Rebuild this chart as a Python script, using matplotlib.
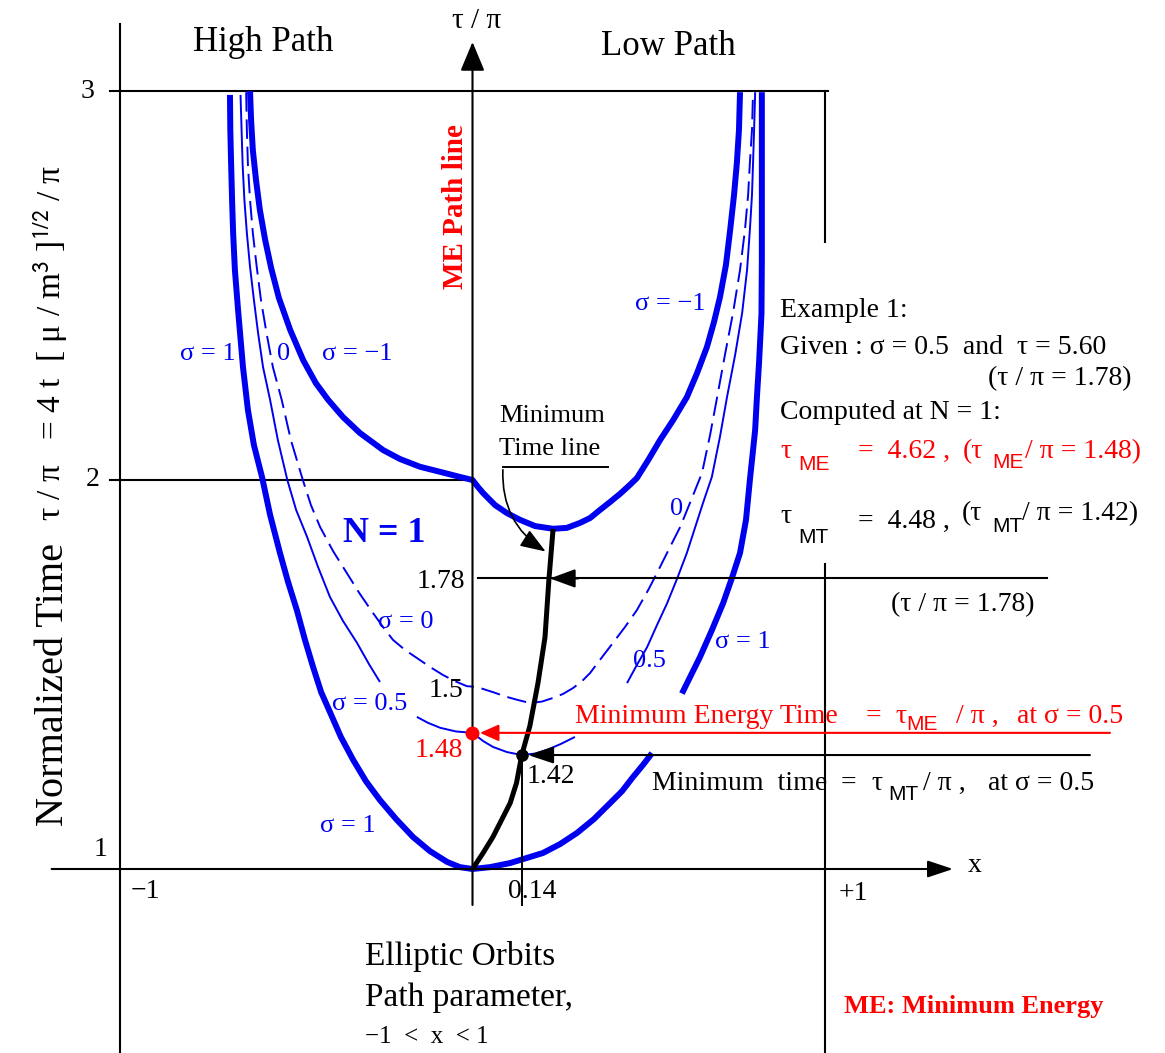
import numpy as np
import matplotlib
matplotlib.use("Agg")
import matplotlib.pyplot as plt
from matplotlib.patches import FancyArrowPatch

plt.rcParams['font.family'] = ['Liberation Serif', 'DejaVu Serif']
plt.rcParams['mathtext.fontset'] = 'stix'
plt.rcParams['mathtext.default'] = 'regular'

W, H = 1165, 1053
BLUE = '#0000f0'
RED = '#ff0000'

# the tau/pi axis is not drawn to scale: labelled levels and the height
# each one sits at (in units of the 1 -> 2 spacing)
y_levels = [0.4, 1.0, 1.42, 1.48, 1.5, 1.78, 2.0, 3.0, 3.3]
y_height = [-0.6, 0.0, 0.293, 0.350, 0.469, 0.747, 1.0, 2.0, 2.3]

# N = 1 curves, x = path parameter, y = tau/pi ; None = break in the line
sig_p1_x = [-0.689, -0.688, -0.686, -0.683, -0.680, -0.675, -0.666, -0.652, -0.638,
            -0.621, -0.598, -0.575, -0.547, -0.524, -0.499, -0.476, -0.453, -0.430,
            -0.405, -0.374, -0.339, -0.303, -0.263, -0.217, -0.169, -0.121, -0.072,
            -0.036, 0.0, 0.050, 0.107, 0.155, 0.200, 0.249, 0.297, 0.345, 0.391,
            0.425, 0.456, 0.484, 0.510, None,
            0.595, 0.621, 0.646, 0.680, 0.712, 0.737, 0.760, 0.777, 0.788, 0.797,
            0.803, 0.808, 0.814, 0.818, 0.821, 0.822, 0.822, 0.822]
sig_p1_y = [2.990, 2.900, 2.823, 2.720, 2.635, 2.540, 2.437, 2.290, 2.180,
            2.090, 2.008, 1.922, 1.837, 1.771, 1.698, 1.621, 1.551, 1.4976,
            1.489, 1.469, 1.402, 1.324, 1.254, 1.184, 1.118, 1.066, 1.026,
            1.007, 1.0, 1.007, 1.022, 1.041, 1.059, 1.092, 1.133, 1.184, 1.243,
            1.287, 1.339, 1.383, 1.425, None,
            1.497, 1.530, 1.576, 1.646, 1.716, 1.781, 1.837, 1.911, 2.0, 2.077,
            2.129, 2.213, 2.301, 2.373, 2.429, 2.566, 2.720, 2.997]

sig_m1_x = [-0.632, -0.629, -0.624, -0.615, -0.604, -0.589, -0.572, -0.550, -0.518,
            -0.481, -0.445, -0.410, -0.368, -0.320, -0.254, -0.206, -0.149, -0.092,
            -0.036, 0.0, 0.016, 0.030, 0.064, 0.098, 0.135, 0.178, 0.229, 0.268,
            0.305, 0.334, 0.362, 0.391, 0.419, 0.447, 0.467, 0.499, 0.533, 0.570,
            0.609, 0.638, 0.666, 0.686, 0.703, 0.720, 0.732, 0.743, 0.751, 0.757, 0.760]
sig_m1_y = [3.0, 2.925, 2.848, 2.771, 2.694, 2.617, 2.545, 2.468, 2.386,
            2.308, 2.249, 2.206, 2.162, 2.121, 2.077, 2.054, 2.034, 2.021,
            2.008, 2.0, 1.984, 1.971, 1.944, 1.926, 1.911, 1.897, 1.891, 1.893,
            1.904, 1.915, 1.933, 1.951, 1.969, 1.989, 2.005, 2.051, 2.103, 2.154,
            2.213, 2.275, 2.342, 2.406, 2.470, 2.553, 2.643, 2.733, 2.815, 2.900, 2.997]

sig_0_x = [-0.643, -0.641, -0.638, -0.632, -0.624, -0.613, -0.601, -0.585, -0.567,
           -0.542, -0.516, -0.482, -0.459, -0.433, -0.396, -0.357, -0.320, -0.283,
           -0.254, -0.226, -0.192, -0.158, -0.121, -0.084, -0.050, -0.016, 0.0,
           0.021, 0.058, 0.098, 0.129, 0.163, 0.197, 0.229, 0.257, 0.286, 0.311,
           0.334, 0.362, 0.399, 0.433, 0.467, 0.501, 0.533, 0.561, 0.590, 0.621,
           0.652, 0.675, 0.695, 0.717, 0.740, 0.760, 0.774, 0.783, 0.788, 0.794, 0.797]
sig_0_y = [2.997, 2.900, 2.810, 2.720, 2.635, 2.548, 2.463, 2.377, 2.290,
           2.206, 2.103, 2.0, 1.944, 1.895, 1.841, 1.792, 1.740, 1.691,
           1.654, 1.621, 1.595, 1.574, 1.551, 1.530, 1.514, 1.501, 1.5,
           1.4994, 1.4976, 1.4955, 1.4942, 1.4929, 1.4935, 1.4951, 1.4968, 1.4994, 1.514,
           1.535, 1.569, 1.613, 1.654, 1.698, 1.753, 1.806, 1.850, 1.895, 1.955,
           2.018, 2.116, 2.213, 2.321, 2.429, 2.540, 2.643, 2.733, 2.815, 2.900, 2.997]

sig_05_x = [-0.659, -0.656, -0.653, -0.648, -0.641, -0.632, -0.621, -0.609, -0.595,
            -0.575, -0.553, -0.526, -0.501, -0.470, -0.439, -0.405, -0.368, -0.328,
            -0.294, -0.263, None,
            -0.158, -0.126, -0.092, -0.047, 0.0, 0.030, 0.058, 0.098, 0.14, 0.178,
            0.212, 0.251, 0.291, None,
            0.439, 0.467, 0.496, 0.524, 0.553, 0.582, 0.609, 0.632, 0.655, 0.680,
            0.703, 0.723, 0.746, 0.766, 0.780, 0.788, 0.794, 0.797, 0.800, 0.803]
sig_05_y = [2.990, 2.900, 2.810, 2.720, 2.635, 2.548, 2.463, 2.377, 2.290,
            2.206, 2.103, 2.0, 1.933, 1.873, 1.806, 1.732, 1.670, 1.613,
            1.558, 1.512, None,
            1.4869, 1.4843, 1.4822, 1.4806, 1.48, 1.458, 1.442, 1.428, 1.42, 1.424,
            1.434, 1.450, 1.469, None,
            1.509, 1.556, 1.602, 1.659, 1.716, 1.781, 1.837, 1.893, 1.949, 2.008,
            2.111, 2.213, 2.321, 2.429, 2.540, 2.643, 2.733, 2.815, 2.900, 2.997]

# minimum time line
mt_x = [0.0, 0.030, 0.058, 0.107, 0.125, 0.14, 0.163, 0.186, 0.206, 0.217, 0.229]
mt_y = [1.0, 1.059, 1.118, 1.243, 1.317, 1.42, 1.483, 1.509, 1.628, 1.776, 1.891]

# example 1
x_mt, tau_mt = 0.14, 1.42
tau_me = 1.48
tau_given = 1.78


def to_height(y):
    return np.interp(y, y_levels, y_height)


def from_height(h):
    return np.interp(h, y_height, y_levels)


def split(xs, ys):
    seg_x, seg_y = [], []
    for x, y in zip(xs, ys):
        if x is None:
            yield seg_x, seg_y
            seg_x, seg_y = [], []
        else:
            seg_x.append(x)
            seg_y.append(y)
    yield seg_x, seg_y


def curve(xs, ys, **kw):
    for sx, sy in split(xs, ys):
        ax.plot(sx, sy, solid_capstyle='butt', solid_joinstyle='round', **kw)


def arrow(tip, tail, ms=26, color='k', lw=1.5, hl=0.6, hw=0.2):
    ax.annotate('', xy=tip, xytext=tail,
                arrowprops=dict(arrowstyle=f'-|>,head_length={hl},head_width={hw}',
                                color=color, lw=lw, mutation_scale=ms,
                                shrinkA=0, shrinkB=0))


fig = plt.figure(figsize=(W / 100, H / 100), dpi=100)
ax = fig.add_axes([0, 0, 1, 1])
ax.set_yscale('function', functions=(to_height, from_height))
ax.set_xlim(-1.3423, 1.9673)
ax.set_ylim(0.527, 3.234)
ax.axis('off')

# frame of the diagram
k = dict(color='k', lw=1.5)
ax.plot([-1, -1], [0.527, 3.172], **k)
ax.plot([1, 1], [2.613, 3.0], **k)
ax.plot([1, 1], [0.527, 1.812], **k)
ax.plot([-1.029, 1.011], [3, 3], **k)
ax.plot([-1.029, 0], [2, 2], **k)
arrow((0, 3.126), (0, 0.9075), ms=30, hw=0.25)
arrow((1.365, 1), (-1.1955, 1), ms=26)

# curves
curve(sig_p1_x, sig_p1_y, color=BLUE, lw=4.3)
curve(sig_m1_x, sig_m1_y, color=BLUE, lw=4.3)
curve(sig_05_x, sig_05_y, color=BLUE, lw=1.4)
curve(sig_0_x, sig_0_y, color=BLUE, lw=1.4, linestyle=(0, (10, 4)))
curve(mt_x, mt_y, color='k', lw=3.6)

# example 1 markers
ax.plot([0.016, 1.632], [tau_given, tau_given], **k)
arrow((0.22, tau_given), (0.30, tau_given), ms=26, hw=0.22)
arrow((0.021, tau_me), (1.811, tau_me), color=RED, ms=23, hl=0.5, hw=0.22)
arrow((0.158, tau_mt), (1.754, tau_mt), ms=26)
ax.plot([x_mt, x_mt], [0.9075, tau_mt], color='k', lw=1.4)
ax.plot(0, tau_me, 'o', color=RED, ms=9, zorder=5)
ax.plot(x_mt, tau_mt, 'o', color='k', ms=8, zorder=5)

# text layer in pixel units
note = fig.add_axes([0, 0, 1, 1])
note.set_xlim(0, W)
note.set_ylim(H, 0)
note.axis('off')
note.patch.set_alpha(0)


def put(px, py, s, size=20, color='k', ha='left', va='baseline', **kw):
    note.text(px, py, s, fontsize=size, color=color, ha=ha, va=va, **kw)


def sub(px, py, s, color='k'):
    put(px, py, s, size=15, color=color, family=['Liberation Sans', 'DejaVu Sans'])


put(193, 51, "High Path", size=25)
put(601, 55, "Low Path", size=25)
put(452, 28, "τ / π", size=21)
put(94, 91, "3", size=20, ha='right', va='center')
put(100, 480, "2", size=20, ha='right', va='center')
put(107, 849, "1", size=20, ha='right', va='center')
put(145, 892, "−1", size=20, ha='center', va='center')
put(532, 892, "0.14", size=20, ha='center', va='center')
put(853, 893, "+1", size=20, ha='center', va='center')
put(975, 866, "x", size=20, ha='center', va='center')

note.text(63, 685, "Normalized Time", fontsize=29, rotation=90,
          rotation_mode='anchor', ha='center', va='baseline')
note.text(61, 343, r"τ / π   = 4 t  [ μ / m$^{\mathsf{3}}$ ]$^{\mathsf{1/2}}$ / π",
          fontsize=24, rotation=90, rotation_mode='anchor', ha='center', va='baseline')
note.text(463, 207, "ME Path line", fontsize=21, fontweight='bold', color=RED,
          rotation=90, rotation_mode='anchor', ha='center', va='baseline')

# curve labels
put(180, 360, "σ = 1", size=19, color=BLUE)
put(277, 360, "0", size=19, color=BLUE)
put(322, 360, "σ = −1", size=19, color=BLUE)
put(635, 310, "σ = −1", size=19, color=BLUE)
put(343, 542, "N = 1", size=26, color=BLUE, fontweight='bold')
put(378, 628, "σ = 0", size=19, color=BLUE)
put(332, 710, "σ = 0.5", size=19, color=BLUE)
put(320, 832, "σ = 1", size=19, color=BLUE)
put(670, 515, "0", size=19, color=BLUE)
put(633, 667, "0.5", size=19, color=BLUE)
put(715, 648, "σ = 1", size=19, color=BLUE)

put(465, 588, "1.78", size=20, ha='right')
put(463, 697, "1.5", size=20, ha='right')
put(463, 757, "1.48", size=20, ha='right', color=RED)
put(527, 783, "1.42", size=20)

# minimum time line callout
put(499, 422, "Minimum", size=19)
put(499, 455, "Time line", size=19)
note.plot([503, 608], [467, 467], color='k', lw=1.4)
note.add_patch(FancyArrowPatch((503, 467), (548, 553), connectionstyle='arc3,rad=0.3',
                               arrowstyle='-|>,head_length=0.6,head_width=0.22',
                               mutation_scale=26, lw=1.2, color='k'))

# example block
put(780, 317, "Example 1:")
put(780, 354, "Given : σ = 0.5  and  τ = 5.60")
put(1132, 385, "(τ / π = 1.78)", ha='right')
put(780, 419, "Computed at N = 1:")
put(780, 458, "τ", color=RED)
sub(798, 470, "ME", color=RED)
put(858, 458, "=  4.62 ,", color=RED)
put(963, 458, "(τ", color=RED)
sub(992, 468, "ME", color=RED)
put(1025, 458, "/ π = 1.48)", color=RED)
put(780, 523, "τ")
sub(798, 543, "MT")
put(858, 528, "=  4.48 ,")
put(962, 520, "(τ")
sub(992, 532, "MT")
put(1022, 520, "/ π = 1.42)")
put(891, 611, "(τ / π = 1.78)")

put(575, 723, "Minimum Energy Time", color=RED)
put(866, 723, "=", color=RED)
put(895, 723, "τ", color=RED)
sub(906, 730, "ME", color=RED)
put(956, 723, "/ π ,", color=RED)
put(1017, 723, "at σ = 0.5", color=RED)

put(652, 790, "Minimum  time")
put(841, 790, "=")
put(871, 790, "τ")
sub(888, 800, "MT")
put(923, 790, "/ π ,")
put(988, 790, "at σ = 0.5")

put(365, 965, "Elliptic Orbits", size=24)
put(365, 1006, "Path parameter,", size=24)
put(365, 1043, "−1  <  x  < 1", size=18)
put(844, 1013, "ME: Minimum Energy", size=19, color=RED, fontweight='bold')

fig.savefig("out.png", dpi=100)
